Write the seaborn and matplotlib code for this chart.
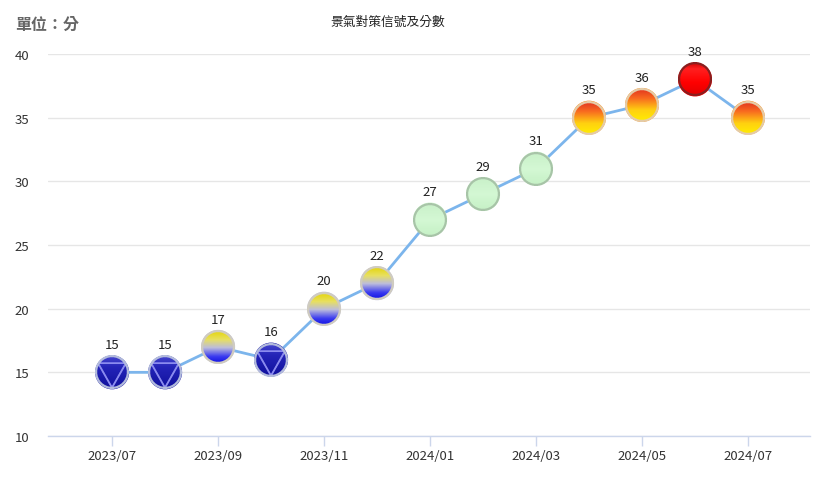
import numpy as np
import pandas as pd
import matplotlib
matplotlib.use("Agg")
import matplotlib.pyplot as plt
import seaborn as sns
from matplotlib.offsetbox import OffsetImage, AnnotationBbox
from matplotlib.colors import to_rgb

# ---------------- data ----------------
months = ["2023/07", "2023/08", "2023/09", "2023/10", "2023/11", "2023/12",
          "2024/01", "2024/02", "2024/03", "2024/04", "2024/05", "2024/06", "2024/07"]
scores = [15, 15, 17, 16, 20, 22, 27, 29, 31, 35, 36, 38, 35]
signals = ["blue", "blue", "yb", "blue", "yb", "yb",
           "green", "green", "green", "yr", "yr", "red", "yr"]
tick_labels = ["2023/07", "2023/09", "2023/11", "2024/01", "2024/03", "2024/05", "2024/07"]
title = "景氣對策信號及分數"
unit = "單位：分"

df = pd.DataFrame({"idx": np.arange(len(months)), "month": months,
                   "score": scores, "signal": signals})

# ---------------- style ----------------
sns.set_theme(style="white")
plt.rcParams["font.family"] = ["Noto Sans CJK TC", "DejaVu Sans"]

W, H = 821, 485
fig = plt.figure(figsize=(W / 100, H / 100), dpi=100)
ax = fig.add_axes([48 / W, (H - 437) / H, (810 - 48) / W, (437 - 55) / H])


def grad(t, stops):
    """piecewise-linear colour gradient; stops = [(pos, hex), ...]"""
    pos = [s[0] for s in stops]
    cols = np.array([to_rgb(s[1]) for s in stops])
    out = np.zeros(t.shape + (3,))
    for c in range(3):
        out[..., c] = np.interp(t, pos, cols[:, c])
    return out


def make_marker(kind, D=34, ss=4):
    N = D * ss
    c = (np.arange(N) + 0.5) / N * 2 - 1
    xx, yy = np.meshgrid(c, c)
    r = np.sqrt(xx ** 2 + yy ** 2)
    t = (yy + 1) / 2
    if kind == "blue":
        fill = grad(t, [(0, "#4848d0"), (0.35, "#2424b8"), (1, "#10109c")])
        border = "#b4bcdc"
    elif kind == "yb":
        fill = grad(t, [(0, "#e4d400"), (0.28, "#e8e060"), (0.52, "#bcbcdc"),
                        (0.78, "#3a3af0"), (1, "#0c0ce0")])
        border = "#d0ccc0"
    elif kind == "green":
        fill = grad(t, [(0, "#c8f0c8"), (0.5, "#d4f8d4"), (1, "#c4f0c4")])
        border = "#a8c4a8"
    elif kind == "yr":
        fill = grad(t, [(0, "#e03020"), (0.3, "#f86a20"), (0.65, "#ffd010"), (1, "#fff000")])
        border = "#e4cca8"
    else:  # red
        fill = grad(t, [(0, "#c80000"), (0.2, "#ff2020"), (0.6, "#ff0000"), (1, "#e00000")])
        border = "#8a2020"
    rgb = fill.copy()
    brd = np.array(to_rgb(border))
    ring = r > 0.87
    rgb[ring] = brd
    if kind == "blue":
        # inscribed inverted triangle outline
        verts = np.array([[-0.82, -0.52], [0.82, -0.52], [0.0, 0.92]])
        lw = 0.055
        tri_col = np.array(to_rgb("#8c8cf0"))
        for i in range(3):
            p0, p1 = verts[i], verts[(i + 1) % 3]
            d = p1 - p0
            L = np.hypot(*d)
            u = ((xx - p0[0]) * d[0] + (yy - p0[1]) * d[1]) / L ** 2
            u = np.clip(u, 0, 1)
            px = p0[0] + u * d[0]
            py = p0[1] + u * d[1]
            dist = np.hypot(xx - px, yy - py)
            m = (dist < lw) & (r < 0.87)
            rgb[m] = tri_col
    alpha = (r <= 1.0).astype(float)
    rgba = np.dstack([rgb * alpha[..., None], alpha])
    rgba = rgba.reshape(D, ss, D, ss, 4).mean(axis=(1, 3))
    a = rgba[..., 3:4]
    rgba[..., :3] = np.where(a > 0, rgba[..., :3] / np.maximum(a, 1e-6), 0)
    return np.clip(rgba, 0, 1)


marker_imgs = {k: make_marker(k) for k in ["blue", "yb", "green", "yr", "red"]}
base_cols = {"blue": "#1a1aa8", "yb": "#c4c4dc", "green": "#d0f5d0",
             "yr": "#ff9020", "red": "#ff0000"}

# line
sns.lineplot(data=df, x="idx", y="score", ax=ax, color="#7cb5ec", linewidth=2,
             zorder=2, legend=False)
# base markers (covered by gradient images)
sns.scatterplot(data=df, x="idx", y="score", hue="signal", palette=base_cols,
                s=600, linewidth=0, ax=ax, zorder=3, legend=False)

for i, row in df.iterrows():
    im = OffsetImage(marker_imgs[row["signal"]], zoom=1, dpi_cor=False)
    ab = AnnotationBbox(im, (row["idx"], row["score"]), frameon=False,
                        pad=0, zorder=4, annotation_clip=False)
    ax.add_artist(ab)
    ax.annotate(str(row["score"]), (row["idx"], row["score"]),
                xytext=(0, 20), textcoords="offset points", ha="center",
                va="center", fontsize=9.5, color="#222222", zorder=5,
                annotation_clip=False)

# axes
ax.set_xlim(-1.21, 13.17)
ax.set_ylim(10, 40)
ax.set_yticks([10, 15, 20, 25, 30, 35, 40])
ax.set_xticks([months.index(t) for t in tick_labels])
ax.set_xticklabels(tick_labels)
ax.set_xlabel("")
ax.set_ylabel("")
ax.grid(axis="y", color="#e6e6e6", linewidth=1)
ax.grid(axis="x", visible=False)
ax.set_axisbelow(True)
for s in ["top", "right", "left"]:
    ax.spines[s].set_visible(False)
ax.spines["bottom"].set_color("#ccd6eb")
ax.spines["bottom"].set_linewidth(1)
ax.tick_params(axis="x", length=7.5, width=1, color="#ccd6eb", direction="out",
               pad=2, labelsize=9.5, labelcolor="#333333", bottom=True)
ax.tick_params(axis="y", length=0, labelsize=9.5, labelcolor="#333333")
for lab in ax.get_yticklabels():
    lab.set_horizontalalignment("left")
ax.yaxis.set_tick_params(pad=24)

fig.text(15 / W, 1 - 25 / H, unit, fontsize=11.5, color="#666666",
         fontweight="bold", ha="left", va="center")
fig.text(388 / W, 1 - 22 / H, title, fontsize=9.2, color="#222222",
         ha="center", va="center")

fig.savefig("out.png", dpi=100)
